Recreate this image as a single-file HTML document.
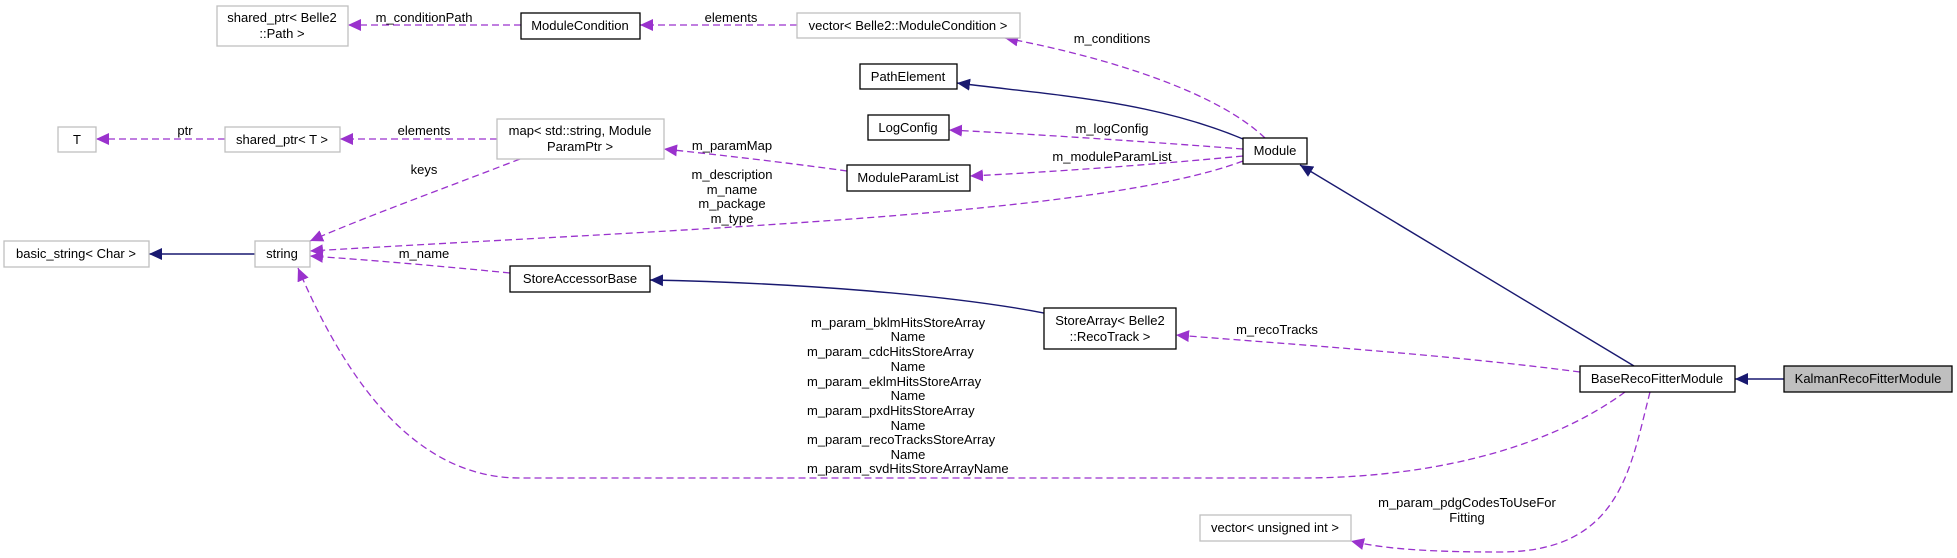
<!DOCTYPE html>
<html><head><meta charset="utf-8"><style>
html,body{margin:0;padding:0;background:#fff;}
svg{display:block;font-family:"Liberation Sans",sans-serif;font-size:13px;}
</style></head><body>
<svg width="1957" height="558" viewBox="0 0 1957 558" xmlns="http://www.w3.org/2000/svg">
<defs>
<marker id="p" markerUnits="userSpaceOnUse" markerWidth="14" markerHeight="12" refX="13" refY="6" orient="auto"><path d="M0,0 L13,6 L0,12 z" fill="#9a32cd"/></marker>
<marker id="n" markerUnits="userSpaceOnUse" markerWidth="14" markerHeight="12" refX="13" refY="6" orient="auto"><path d="M0,0 L13,6 L0,12 z" fill="#191970"/></marker>
</defs>
<g fill="none" stroke="#9a32cd" stroke-width="1.3" stroke-dasharray="7,4" marker-end="url(#p)">
<path d="M521,25 L348,25"/>
<path d="M797,25 L640,25"/>
<path d="M1265,138 C1220,95 1120,60 1005,38"/>
<path d="M1243,149 C1150,142 1050,135 949,130"/>
<path d="M1243,156 C1150,165 1050,172 970,176"/>
<path d="M1243,161 C1100,215 700,228 310,251"/>
<path d="M847,171 C790,163 720,155 664,149"/>
<path d="M520,159 C440,190 370,215 310,241"/>
<path d="M497,139 L340,139"/>
<path d="M225,139 L96,139"/>
<path d="M510,273 C440,266 370,260 310,256"/>
<path d="M1580,372 C1450,355 1300,345 1176,335"/>
<path d="M1625,392 C1560,440 1450,478 1300,478 L520,478 C420,478 350,390 298,268"/>
<path d="M1650,392 C1630,470 1620,552 1500,552 C1420,552 1380,548 1351,541"/>
</g>
<g fill="none" stroke="#191970" stroke-width="1.4" marker-end="url(#n)">
<path d="M255,254 L149,254"/>
<path d="M1243,139 C1150,100 1050,95 957,83"/>
<path d="M1634,366 L1300,165"/>
<path d="M1784,379 L1735,379"/>
<path d="M1044,313 C950,295 800,283 650,280"/>
</g>
<g stroke-width="1.3">
<rect x="217" y="6" width="131" height="40" fill="#fff" stroke="#bfbfbf"/>
<rect x="521" y="13" width="119" height="26" fill="#fff" stroke="#000"/>
<rect x="797" y="13" width="223" height="25" fill="#fff" stroke="#bfbfbf"/>
<rect x="860" y="64" width="97" height="25" fill="#fff" stroke="#000"/>
<rect x="868" y="115" width="81" height="25" fill="#fff" stroke="#000"/>
<rect x="847" y="165" width="123" height="26" fill="#fff" stroke="#000"/>
<rect x="1243" y="138" width="64" height="26" fill="#fff" stroke="#000"/>
<rect x="58" y="127" width="38" height="25" fill="#fff" stroke="#bfbfbf"/>
<rect x="225" y="127" width="115" height="25" fill="#fff" stroke="#bfbfbf"/>
<rect x="497" y="119" width="167" height="40" fill="#fff" stroke="#bfbfbf"/>
<rect x="4" y="241" width="145" height="26" fill="#fff" stroke="#bfbfbf"/>
<rect x="255" y="241" width="55" height="26" fill="#fff" stroke="#bfbfbf"/>
<rect x="510" y="266" width="140" height="26" fill="#fff" stroke="#000"/>
<rect x="1044" y="308" width="132" height="41" fill="#fff" stroke="#000"/>
<rect x="1580" y="366" width="155" height="26" fill="#fff" stroke="#000"/>
<rect x="1784" y="366" width="168" height="26" fill="#bfbfbf" stroke="#000"/>
<rect x="1200" y="515" width="151" height="26" fill="#fff" stroke="#bfbfbf"/>
</g>
<g text-anchor="middle" fill="#000">
<text x="282" y="22">shared_ptr&lt; Belle2</text><text x="282" y="38">::Path &gt;</text>
<text x="580" y="30">ModuleCondition</text>
<text x="908" y="30">vector&lt; Belle2::ModuleCondition &gt;</text>
<text x="908" y="81">PathElement</text>
<text x="908" y="132">LogConfig</text>
<text x="908" y="182">ModuleParamList</text>
<text x="1275" y="155">Module</text>
<text x="77" y="144">T</text>
<text x="282" y="144">shared_ptr&lt; T &gt;</text>
<text x="580" y="135">map&lt; std::string, Module</text><text x="580" y="151">ParamPtr &gt;</text>
<text x="76" y="258">basic_string&lt; Char &gt;</text>
<text x="282" y="258">string</text>
<text x="580" y="283">StoreAccessorBase</text>
<text x="1110" y="325">StoreArray&lt; Belle2</text><text x="1110" y="341">::RecoTrack &gt;</text>
<text x="1657" y="383">BaseRecoFitterModule</text>
<text x="1868" y="383">KalmanRecoFitterModule</text>
<text x="1275" y="532">vector&lt; unsigned int &gt;</text>
<text x="424" y="22">m_conditionPath</text>
<text x="731" y="22">elements</text>
<text x="1112" y="43">m_conditions</text>
<text x="185" y="135">ptr</text>
<text x="424" y="135">elements</text>
<text x="424" y="174">keys</text>
<text x="732" y="150">m_paramMap</text>
<text x="1112" y="133">m_logConfig</text>
<text x="1112" y="161">m_moduleParamList</text>
<text x="732" y="179">m_description</text>
<text x="732" y="194">m_name</text>
<text x="732" y="208">m_package</text>
<text x="732" y="223">m_type</text>
<text x="424" y="258">m_name</text>
<text x="1277" y="334">m_recoTracks</text>
<text x="908" y="341">Name</text>
<text x="908" y="371">Name</text>
<text x="908" y="400">Name</text>
<text x="908" y="430">Name</text>
<text x="908" y="459">Name</text>
<text x="1467" y="507">m_param_pdgCodesToUseFor</text>
<text x="1467" y="522">Fitting</text>
</g>
<g fill="#000">
<text x="811" y="327">m_param_bklmHitsStoreArray</text>
<text x="807" y="356">m_param_cdcHitsStoreArray</text>
<text x="807" y="386">m_param_eklmHitsStoreArray</text>
<text x="807" y="415">m_param_pxdHitsStoreArray</text>
<text x="807" y="444">m_param_recoTracksStoreArray</text>
<text x="807" y="473">m_param_svdHitsStoreArrayName</text>
</g>
</svg>
</body></html>
